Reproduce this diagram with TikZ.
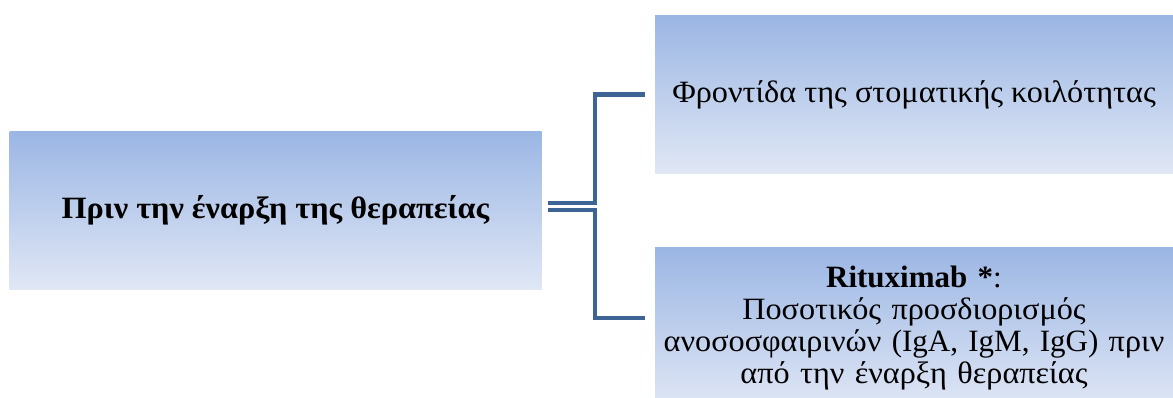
\documentclass[tikz,border=0pt]{standalone}
\usepackage{fontspec}
\setmainfont{Liberation Serif}
% Greek runs are set slightly wider than the Latin ones
\newfontfamily\grk{Liberation Serif}[FakeStretch=1.04]
\usetikzlibrary{calc}
\definecolor{boxtop}{RGB}{155,182,228}
\definecolor{boxbot}{RGB}{224,231,245}
\definecolor{linkblue}{RGB}{62,100,150}
\tikzset{
  gbox/.style={rectangle, inner sep=0pt, top color=boxtop, bottom color=boxbot,
    draw=none, align=center, font=\fontsize{31}{32}\selectfont},
  conn/.style={draw=linkblue, line width=4.5pt}
}
\begin{document}
\begin{tikzpicture}[x=1pt,y=-1pt]
\useasboundingbox (0,0) rectangle (1173,397);
\node[gbox, minimum width=532pt, minimum height=158pt] (left) at (275.5,210)
  {\raisebox{-3pt}{\textbf{\grk Πριν την έναρξη της θεραπείας}}};
\node[gbox, minimum width=518pt, minimum height=158pt] (top) at (914,94.5)
  {\raisebox{-2pt}{\grk Φροντίδα της στοματικής κοιλότητας}};
\node[gbox, minimum width=518pt, minimum height=162pt, text width=516pt] (bot) at (914,328)
  {\textbf{Rituximab *}:\\{\grk Ποσοτικός προσδιορισμός}\\{\grk ανοσοσφαιρινών} (IgA, IgM, IgG) {\grk πριν}\\{\grk από την έναρξη θεραπείας}};
% split bracket joining the main box to both branches
\draw[conn] ($(left.east)+(6,-7)$) -| ($(top.west)+(-60,0)$) -- ($(top.west)+(-10,0)$);
\draw[conn] ($(left.east)+(6,0)$) -| ($(bot.west)+(-60,-10)$) -- ($(bot.west)+(-10,-10)$);
\end{tikzpicture}
\end{document}
